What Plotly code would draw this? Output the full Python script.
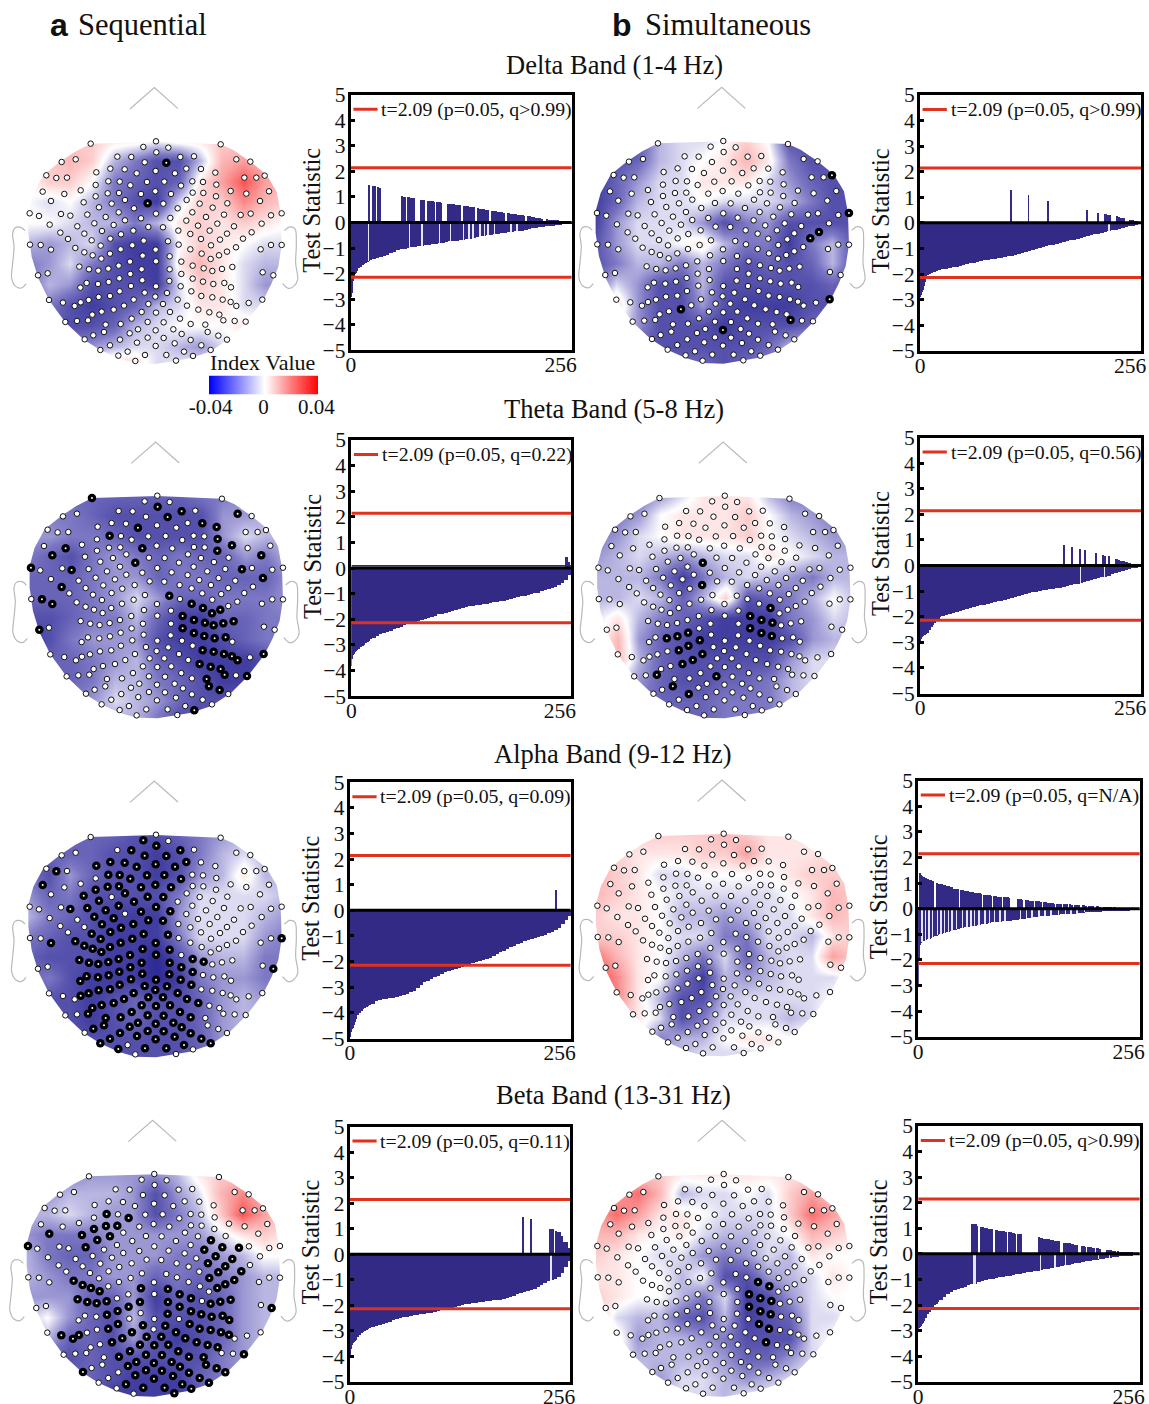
import numpy as np
import plotly.graph_objects as go

W, H = 1149, 1404
SERIF = "Liberation Serif"
BAR = "#332a85"
RED = "#e0301e"
GRAY = "#b9b9b9"

# ---------- bar data: |t| sorted, one value per rank group ----------
RANK_WIDTHS = [1]*8 + [2]*8 + [4]*58

mag_a_delta = [2.9,2.75,2.3,2.1,2.0,1.95,1.88,1.82, 1.78,1.72,1.67,1.62,1.57,1.53,1.49,1.46,
 1.43,1.39,1.35,1.3,1.26,1.2,1.14,1.08,1.04,1.02,.99,.97,.95,.92,.9,.88,.86,.84,.82,.8,.78,.75,.73,.72,.7,.68,.66,.64,.62,.6,.57,.54,.52,.49,.47,.45,.43,.41,.39,.37,.36,.34,.32,.31,.28,.25,.22,.2,.18,.16,.14,.12,.11,.09,.08,.06,.04,.02]
pos_a_delta = [(20,21),(25,27),(31,33),(58,62),(66,69),(71,73),(80,84),(89,91),(93,96),(99,104),(112,115),(117,126),(130,132),(134,137),(139,142),(147,150),(152,154),(156,158),(163,166),(167,177),(181,200),(205,212),(214,221),(226,231),(233,242),(246,252)]
gap_a_delta = [20,67,82,102,115,130,136,141,149,154,158,166,185,192]

mag_a_theta = [3.8,3.55,3.4,3.33,3.28,3.24,3.2,3.17, 3.14,3.09,3.04,2.99,2.93,2.87,2.82,2.77,
 2.72,2.64,2.58,2.52,2.47,2.43,2.38,2.35,2.29,2.23,2.17,2.12,2.08,2.05,2.02,1.99,1.95,1.9,1.85,1.8,1.77,1.74,1.7,1.66,1.62,1.58,1.55,1.52,1.49,1.46,1.44,1.42,1.4,1.38,1.36,1.33,1.31,1.29,1.26,1.23,1.2,1.16,1.13,1.1,1.07,1.05,1.02,.98,.95,.9,.86,.82,.77,.72,.66,.58,.45,.25]
pos_a_theta = [(250,254)]
gap_a_theta = []
sliver_a_theta = 0.09

mag_a_alpha = [4.95,4.75,4.65,4.6,4.5,4.35,4.25,4.18, 4.1,4.0,3.92,3.86,3.82,3.78,3.74,3.7,
 3.66,3.56,3.5,3.47,3.45,3.43,3.41,3.38,3.35,3.32,3.27,3.21,3.14,3.05,2.93,2.82,2.76,2.7,2.62,2.55,2.48,2.43,2.38,2.33,2.28,2.24,2.2,2.16,2.12,2.08,2.04,2.0,1.96,1.91,1.87,1.8,1.73,1.65,1.58,1.5,1.44,1.38,1.33,1.27,1.22,1.18,1.14,1.1,1.06,1.02,.97,.91,.85,.78,.68,.55,.4,.22]
pos_a_alpha = [(238,238)]
gap_a_alpha = []

mag_a_beta = [3.95,3.7,3.55,3.47,3.42,3.38,3.33,3.27, 3.22,3.13,3.08,3.03,2.98,2.94,2.9,2.87,
 2.84,2.79,2.75,2.7,2.66,2.62,2.57,2.53,2.5,2.46,2.43,2.4,2.38,2.36,2.34,2.32,2.3,2.29,2.26,2.22,2.18,2.14,2.11,2.07,2.04,2.01,1.98,1.95,1.92,1.9,1.88,1.86,1.84,1.82,1.81,1.79,1.78,1.76,1.72,1.68,1.64,1.6,1.56,1.52,1.48,1.44,1.4,1.35,1.28,1.2,1.12,1.05,1.0,.94,.88,.72,.5,.25]
pos_a_beta = [(200,200),(210,210),(232,235),(239,246),(248,254)]
gap_a_beta = [233]

mag_b_delta = [2.9,2.8,2.7,2.6,2.45,2.3,2.15,2.08, 2.02,1.98,1.95,1.92,1.9,1.88,1.85,1.83,
 1.81,1.78,1.76,1.73,1.71,1.68,1.65,1.62,1.58,1.55,1.52,1.49,1.46,1.43,1.41,1.39,1.37,1.35,1.32,1.3,1.27,1.24,1.21,1.18,1.15,1.11,1.06,1.02,.97,.93,.9,.87,.84,.81,.78,.75,.72,.68,.65,.61,.58,.54,.51,.47,.44,.41,.38,.35,.32,.29,.27,.24,.19,.15,.12,.1,.07,.03]
pos_b_delta = [(105,105),(125,125),(148,148),(193,193),(205,205),(214,219),(227,230),(232,236),(242,246),(248,253)]
gap_b_delta = [218]

mag_b_theta = [2.95,2.85,2.78,2.72,2.7,2.68,2.66,2.65, 2.62,2.5,2.4,2.3,2.22,2.14,2.06,2.01,
 1.96,1.9,1.87,1.83,1.8,1.76,1.72,1.68,1.64,1.6,1.57,1.54,1.51,1.48,1.45,1.42,1.38,1.35,1.31,1.28,1.24,1.2,1.17,1.13,1.1,1.07,1.03,1.0,.97,.94,.92,.9,.88,.86,.84,.81,.78,.75,.72,.69,.66,.63,.59,.55,.5,.47,.44,.41,.38,.33,.29,.25,.2,.17,.13,.09,.06,.03]
pos_b_theta = [(166,166),(175,175),(184,185),(190,190),(203,203),(211,214),(218,218),(226,230),(232,239),(241,249)]
gap_b_theta = [185,213]

mag_b_alpha = [2.95,2.0,1.4,1.33,1.29,1.26,1.24,1.22, 1.2,1.18,1.15,1.12,1.09,1.06,1.03,1.0,
 .97,.93,.89,.85,.8,.77,.74,.71,.69,.66,.64,.62,.59,.57,.55,.52,.5,.49,.47,.46,.45,.43,.41,.39,.37,.35,.33,.32,.3,.28,.26,.25,.23,.22,.21,.2,.19,.19,.18,.17,.16,.15,.13,.13,.12,.11,.1,.09,.09,.08,.07,.06,.05,.05,.04,.03,.02,.01]
pos_b_alpha = [(2,5),(6,9),(11,14),(15,17),(21,23),(24,27),(29,31),(33,36),(38,40),(42,46),(49,52),(54,57),(60,62),(63,66),(68,72),(76,78),(80,84),(87,90),(92,96),(99,102),(103,105),(115,116),(117,120),(124,127),(129,133),(136,142),(145,148),(150,157),(160,165),(168,172),(175,178),(181,186),(190,194),(197,202),(206,210),(214,222),(226,232),(236,242),(246,252)]
gap_b_alpha = [4,8,12,16,22,26,30,35,39,44,51,56,61,65,70,77,82,88,94,100,118,125,131,139,146,153,162,170,176,183,192]

mag_b_beta = [2.95,2.9,2.85,2.8,2.75,2.7,2.62,2.55, 2.5,2.36,2.25,2.15,2.06,2.0,1.94,1.87,
 1.8,1.67,1.56,1.47,1.4,1.35,1.31,1.27,1.23,1.19,1.16,1.11,1.05,1.0,.98,.96,.94,.91,.89,.87,.85,.83,.8,.77,.75,.72,.69,.67,.65,.62,.6,.57,.55,.52,.5,.47,.44,.42,.4,.37,.34,.31,.29,.27,.25,.23,.21,.19,.17,.15,.13,.11,.09,.08,.07,.05,.03,.01]
pos_b_beta = [(62,68),(72,75),(77,79),(82,85),(89,94),(96,101),(104,107),(109,112),(115,118),(139,146),(147,158),(160,162),(168,172),(174,177),(179,183),(189,192),(196,199),(201,203),(206,210),(218,227),(230,237),(240,249)]
gap_b_beta = [64,65,66,141,158,170,208,221]

THRESHOLD = 2.14
Y_TICKS = [-5,-4,-3,-2,-1,0,1,2,3,4,5]

# ---------- electrodes (common layout) ----------
ELECTRODES = [(272,171),(468,164),(662,173),(430,181),(505,183),(469,197),(352,210),(394,211),(541,211),(582,209),
(227,218),(185,226),(709,218),(751,225),(434,227),(499,228),(289,257),(331,246),(374,248),(410,260),(467,253),(525,260),(559,246),(603,247),(646,258),
(139,266),(169,274),(201,273),(733,273),(769,273),(794,267),(287,295),(325,284),(359,285),(391,296),(441,286),(493,285),(543,297),(577,284),(609,286),(649,294),
(128,315),(193,322),(242,311),(692,313),(739,321),(807,314),(287,329),(323,320),(357,319),(423,322),(466,314),(513,322),(578,318),(610,319),(648,329),
(153,343),(251,347),(335,351),(375,340),(443,350),(490,351),(560,340),(599,351),(682,350),(780,343),(297,362),(402,365),(533,365),(638,363),
(89,380),(117,388),(183,382),(211,387),(262,384),(317,391),(356,377),(468,381),(511,394),(577,377),(618,391),(672,384),(722,385),(752,381),(813,386),(845,380),
(375,401),(423,395),(559,402),(149,414),(232,419),(283,410),(341,415),(445,421),(489,422),(594,417),(652,411),(702,419),(785,411),
(306,433),(400,432),(535,432),(629,432),(755,437),(181,438),(253,441),(363,443),(571,442),(681,441),
(204,457),(275,461),(331,456),(431,462),(504,464),(603,457),(660,459),(729,456),
(90,474),(122,475),(153,489),(302,477),(397,476),(536,474),(633,476),(708,482),(782,488),(813,475),(845,475),
(226,484),(253,497),(278,506),(330,501),(362,488),(467,489),(571,488),(681,495),(304,516),(428,507),(509,509),(605,501),(657,506),
(390,525),(468,524),(544,525),(632,517),(238,540),(267,548),(295,552),(325,546),(356,537),(509,548),(578,537),(611,545),(637,553),(666,547),(697,541),
(143,560),(114,566),(391,562),(425,548),(544,562),(788,557),(820,566),
(260,589),(241,603),(294,592),(326,586),(358,575),(427,581),(508,583),(578,576),(609,585),(640,592),(673,589),(693,602),
(393,598),(468,599),(542,599),(359,614),(434,618),(501,619),(574,614),
(296,631),(330,628),(266,640),(242,647),(224,658),(189,648),(147,640),(466,630),(604,628),(637,632),(668,639),(692,646),(709,658),(746,649),(787,639),
(401,639),(533,639),(372,657),(445,652),(489,652),(561,657),(305,675),(341,669),(425,676),(468,678),(510,676),(595,669),(628,677),(658,684),
(277,684),(264,701),(231,703),(196,706),(395,696),(540,696),(670,701),(704,703),(737,705),(443,706),(491,707),(362,712),(317,714),(572,712),(616,714),
(414,728),(467,731),(520,728),(312,736),(389,740),(280,746),(545,742),(623,736),(655,747),
(360,759),(443,753),(491,754),(254,758),(572,760),(681,759),(411,768),(524,770),(330,776),(467,778),(604,776),
(301,790),(383,795),(552,795),(632,790),(355,807),(435,805),(499,805),(579,808),(406,823),(528,822)]

# white electrodes of panel a alpha (all others are significant)
white_a_alpha = [(272,171),(468,164),(662,173),(505,183),(352,210),(582,209),(227,218),(185,226),(709,218),(751,225),(603,247),(646,258),(139,266),(201,273),(733,273),(769,273),(794,267),(287,295),(577,284),(609,286),(649,294),(193,322),(242,311),(692,313),(739,321),(807,314),(578,318),(610,319),(648,329),(153,343),(335,351),(560,340),(599,351),(682,350),(780,343),(533,365),(638,363),(89,380),(117,388),(183,382),(577,377),(618,391),(672,384),(722,385),(752,381),(813,386),(845,380),(375,401),(559,402),(149,414),(232,419),(594,417),(652,411),(702,419),(785,411),(535,432),(629,432),(755,437),(181,438),(253,441),(571,442),(681,441),(204,457),(603,457),(660,459),(729,456),(90,474),(122,475),(536,474),(633,476),(708,482),(782,488),(813,475),(571,488),(681,495),(605,501),(657,506),(544,525),(632,517),(637,553),(666,547),(697,541),(143,560),(114,566),(788,557),(609,585),(640,592),(673,589),(693,602),(604,628),(637,632),(668,639),(692,646),(709,658),(746,649),(787,639),(224,658),(189,648),(147,640),(628,677),(658,684),(231,703),(196,706),(670,701),(704,703),(737,705),(616,714),(623,736),(655,747),(254,758),(681,759),(383,795),(579,808),(406,823),(528,822)]

# significant electrodes, as read in each panel's crop (px*3 vertically)
black_a_delta = [(499,487),(444,610)]
black_a_theta = [(245,204),(419,231),(483,245),(446,261),(631,252),(538,280),(575,290),(367,293),(291,317),(578,326),(378,355),(616,346),(578,362),(175,355),(139,376),(695,376),(359,399),(83,413),(191,420),(643,418),(700,444),(163,471),(450,497),(112,508),(139,521),(509,520),(540,535),(563,549),(585,539),(485,558),(516,570),(544,577),(568,585),(594,580),(621,574),(486,595),(516,609),(544,618),(570,625),(600,622),(105,599),(539,661),(568,665),(595,672),(617,680),(632,691),(701,673),(531,702),(560,710),(587,717),(597,735),(656,738),(549,747),(555,769),(584,781),(516,841)]
black_a_beta = [(282,297),(342,310),(249,342),(281,334),(311,331),(218,360),(292,364),(258,376),(131,356),(227,397),(73,393),(560,376),(542,403),(591,396),(634,398),(571,424),(616,432),(553,445),(598,455),(640,469),(579,471),(555,488),(622,495),(598,509),(577,519),(195,497),(219,512),(241,519),(264,529),(373,520),(445,521),(477,538),(507,549),(206,552),(232,561),(256,565),(283,559),(371,561),(342,574),(312,589),(283,600),(444,566),(477,575),(508,590),(536,598),(562,605),(592,601),(609,615),(586,561),(559,565),(613,554),(722,579),(445,596),(313,627),(288,641),(380,631),(350,652),(438,631),(467,652),(505,627),(532,642),(560,646),(587,652),(608,659),(162,660),(194,672),(209,660),(325,671),(297,683),(390,665),(429,665),(495,669),(522,682),(551,689),(578,697),(372,689),(409,692),(447,689),(345,709),(473,709),(388,719),(430,719),(502,725),(541,727),(316,725),(648,718),(361,742),(340,754),(408,745),(456,741),(484,754),(546,749),(575,760),(599,771),(219,771),(387,766),(431,766),(360,781),(408,791),(458,785),(502,773),(530,789),(335,808),(381,818),(437,818),(484,808),(509,821),(555,803),(462,834)]
black_b_delta = [(695,270),(741,384),(659,441),(635,459),(278,673),(688,642),(581,705),(394,735)]
black_b_theta = [(338,397),(335,464),(525,533),(469,557),(500,569),(530,577),(469,594),(501,607),(530,617),(238,624),(267,618),(297,607),(330,631),(298,646),(271,660),(338,671),(310,690),(281,701),(376,738),(211,732),(255,769),(300,791)]
black_b_alpha = []
black_b_beta = [(491,501),(522,514),(465,538),(497,549),(528,557),(466,574),(498,589),(528,598),(495,627),(521,640),(514,682)]

# ---------- topographic index values (units of 0.01) ----------
GRID_X = [80,145,210,275,340,405,470,535,600,665,730,795,860]
GRID_Y = [160,222,284,346,408,470,532,594,656,718,780,818]

z_a_delta = [[0,0,1,1,.5,.5,0,.5,.5,1,1,1,1],[1,1,1.5,1,-1,-2,-3,-3,-1,1.5,2,1.5,1],[0,1,1,0,-2,-2.5,-3,-2.5,.5,2,3.5,2,1.5],[0,-.5,0,-1,-2,-3,-3.5,-.5,1,1,2.5,1.5,1],[0,0,-.5,-1,-1,-2,-1,.5,1,.5,1,.5,0],[-1,-1.5,-1,-.5,-3,-3.5,-3.5,0,1,.5,0,-.5,-.5],[-2,-1.5,-.5,-2,-3,-3.5,-3.5,.5,1.5,.5,-.5,-1,-1],[-2.5,-1,-1.5,-3,-3,-3,-3.5,-.5,1,.5,-.5,-1.5,-1.5],[-2,-2,-3,-3.5,-3,-2.5,-1,-.5,.5,.5,-.5,-.5,-.5],[-1,-2.5,-3,-3,-2.5,-1,-.5,0,0,0,.5,0,0],[0,-1,-2,-1.5,-1,-.5,-.5,-1,-1.5,-.5,0,0,0],[0,0,0,0,.5,.5,-.5,-.5,-.5,0,0,0,0]]
z_a_theta = [[-2,-2,-2.5,-2.5,-2.5,-2.5,-2.5,-2.5,-2,-2,-1.5,-1,-1],[-2,-2,-2,-2.5,-3,-3,-3,-3,-3,-1.5,-1.5,-1,-1],[-1.5,-1.5,-2,-2,-2.5,-3,-3,-3,-3,-1.5,-.5,-1,-1],[-2,-2.5,-3,-2,-1.5,-2,-2.5,-2,-2.5,-2.5,-1.5,-2,-1],[-2.5,-2.5,-2.5,-2,-1.5,-1.5,-2.5,-2,-2,-2.5,-2.5,-2.5,-1.5],[-2.5,-2.5,-2.5,-2,-1.5,-.5,-1.5,-2.5,-2.5,-2,-2,-2,-1.5],[-3,-3,-2.5,-2,-2,-1,-2.5,-3.5,-3.5,-2.5,-2.5,-2,-2],[-3.5,-3,-2,-1.5,-1.5,-1.5,-3,-3.5,-3.5,-3,-2.5,-2,-2],[-3,-2.5,-2.5,-2,-1.5,-1,-2.5,-3,-3.5,-3.5,-3.5,-3,-2],[-2,-2.5,-2.5,-2,-1,-1,-2,-2.5,-3,-3.5,-3.5,-3,-2],[-2,-2,-2,-1.5,-.5,-1,-1.5,-2.5,-3,-3,-2.5,-2,-2],[-2,-2,-2,-1,-1,-1,-2,-3,-3,-2.5,-2,-2,-2]]
z_a_alpha = [[-2,-2,-2.5,-2.5,-2.5,-3,-3,-2.5,-2,-1.5,-1,-1,-1],[-2,-2.5,-2.5,-2.5,-3,-3,-3.5,-3,-2,-1,-.5,-1,-1],[-2,-3,-1.5,-2.5,-3,-3,-3.5,-3,-1.5,-1,.5,-1,-1],[-1.5,-2.5,-2,-3,-3,-3,-3,-2,-.5,-.5,-.5,-.5,-1],[-1,-2,-2.5,-3,-3.5,-3.5,-3.5,-1.5,-.5,-.5,-.5,-1,-1.5],[-2,-2.5,-3,-3,-3.5,-3.5,-3.5,-2,-.5,-.5,-.5,-1.5,-2],[-2.5,-3,-3,-3,-3.5,-3.5,-4,-3,-1.5,-1,-1,-2,-2],[-2.5,-2,-3,-3.5,-3.5,-3.5,-4,-3.5,-2,-1.5,-1.5,-2,-2],[-3,-3,-3,-3.5,-3,-2.5,-3,-3,-2.5,-1.5,-1,-1.5,-2],[-3,-3,-3,-3.5,-3,-2.5,-3,-3,-2.5,-1.5,-1,-1,-1],[-3,-3,-3,-3,-3,-3,-3,-3,-2.5,-1.5,-1,-1,-1],[-3,-3,-3,-3,-3,-3,-3,-3,-2.5,-2,-1,-1,-1]]
z_a_beta = [[-1.5,-1.5,-2,-1.5,-1.5,-1.5,-1.5,-1,.5,1,1,1,1],[-1,-1.5,-1,-1,-1,-1.5,-3,-1.5,-.5,1.5,2.5,1.5,1],[-1,-1,-.5,-1,-1.5,-1.5,-3,-2,-1,1,3.5,2,1],[-1.5,-2,-2,-2,-1.5,-1.5,-1.5,-1.5,-1.5,-.5,.5,1,.5],[-1,-2,-2.5,-2.5,-1.5,-1.5,-1.5,-2,-2,-1.5,-1,0,0],[-1,-1.5,-2,-2,-1.5,-1.5,-2.5,-2,-2.5,-2,-1.5,-1,-1],[-1.5,-1.5,-1.5,-2.5,-2.5,-1.5,-3.5,-2.5,-3,-2.5,-1.5,-1,-1],[-1,0,-1.5,-2.5,-3,-1,-3,-3,-3,-2.5,-1.5,-1,-1],[-2,-1,-2.5,-2.5,-3,-1.5,-3,-3.5,-3,-2.5,-1.5,-1,-1],[-2,-2.5,-3,-2.5,-3,-3,-3,-3,-3,-2,-1.5,-1,-1],[-2,-2.5,-2.5,-2.5,-3,-3.5,-3.5,-3.5,-2.5,-2,-1.5,-1,-1],[-2,-2.5,-2.5,-3,-3.5,-3.5,-3.5,-3.5,-3,-2,-1.5,-1,-1]]
z_b_delta = [[-3,-3,-3,-1,-.5,-.5,0,1,0,-3,-3,-3,-3],[-3,-3,-2.5,-1,-.5,0,.5,1.5,.5,-2,-3,-3,-3],[-3.5,-2.5,-1.5,-.5,-.5,.5,.5,.5,-.5,-1.5,-2.5,-3,-3],[-3.5,-2.5,-1,-.5,-.5,0,-.5,-.5,-.5,-1,-2,-3,-3],[-3.5,-1.5,-.5,-.5,-.5,-1.5,-3,-2,-1.5,-3,-3,-3,-3],[-3,-1.5,-.5,-.5,0,.5,-1,-2,-2,-3.5,-2,-1,-3],[-3,-2,-1,-1,-2,-1,-2,-3,-2.5,-3,-2.5,-1,-3],[-2.5,-.5,-1.5,-3,-3,-1,-3,-3,-3,-3,-3,-2.5,-3],[-1,1,-1.5,-3,-3,-1.5,-3,-3.5,-3.5,-3.5,-3,-3,-3],[-1,0,-1.5,-3,-3,-3,-3.5,-3,-3,-3,-2.5,-2,-2],[-1,-1,-2.5,-3,-3,-3,-3,-3,-2.5,-1,-.5,-1,-1],[-1,-1,-3,-3,-2.5,-2.5,-3,-2.5,-2,-1,-1,-1,-1]]
z_b_theta = [[-2,-2,-2,-1.5,-.5,.5,.5,.5,-1,-2,-2,-2,-2],[-2.5,-2,-1.5,0,.5,.5,.5,1,0,-1,-1.5,-2,-2],[-2,-1.5,-.5,0,.5,.5,.5,1,0,-.5,-1,-1.5,-1.5],[-1.5,-1,-.5,-1,-1.5,-1,-.5,-.5,.5,0,-.5,-1,-1],[-1,-1,-1,-2,-3.5,-2,-1,-.5,-1,-1.5,-2,-1,-1],[-1,-1,-.5,-1,-2.5,-1,1,-3,-2.5,-2,-1,0,-1],[-.5,.5,-1,-2,-2.5,-3,-3.5,-3.5,-3.5,-2,-1.5,-.5,-1],[-.5,1.5,-1.5,-2.5,-3,-3.5,-3.5,-3.5,-3.5,-3,-1.5,-1,-1],[-.5,1.5,-1,-2.5,-3,-3,-3,-3,-3,-1.5,-.5,-.5,-.5],[-.5,-.5,-1.5,-2.5,-3,-3,-2.5,-2.5,-2,-1,-.5,-.5,-.5],[-1,-1,-2,-2.5,-2.5,-2.5,-2,-2,-2,-1,-.5,-.5,-.5],[-1,-1,-2,-2,-2.5,-2.5,-2,-2,-2,-1,-.5,-.5,-.5]]
z_b_alpha = [[1,1,1,1,1,1,1.5,1,.5,.5,.5,1,1],[1,1,.5,.5,.5,1,1,2,.5,.5,.5,1,1],[1.5,1,.5,-.5,-.5,0,0,0,0,.5,1,1,1],[1.5,1,.5,0,-.5,-.5,-.5,-.5,-.5,0,.5,1.5,1],[1,.5,.5,0,-1,-1,-1.5,-1,-.5,-.5,.5,1.5,1],[1,1,.5,0,-.5,-.5,-2,-2,-.5,-.5,-1,.5,1],[3,1.5,.5,0,-1,-2,-.5,-2.5,-1,-.5,-.5,2,1],[4,2.5,.5,0,-2,-3.5,-1,-1.5,-1,-.5,-.5,-.5,.5],[4,2.5,.5,-1,-3,-3,-1,-.5,-.5,-.5,-.5,0,0],[1.5,1.5,.5,-.5,-3,-2,-.5,-.5,-.5,-1,-.5,.5,.5],[.5,.5,0,-2,-1,-1,0,.5,.5,0,.5,.5,.5],[.5,0,-1,-1,-1,-.5,-.5,-.5,0,.5,.5,.5,.5]]
z_b_beta = [[1,1,1,1,.5,.5,.5,.5,.5,.5,.5,.5,.5],[1,2,3,1.5,-1,-.5,-.5,0,-.5,1,2,1,1],[2,3,2,.5,.5,0,-.5,-.5,-.5,1,3,2,1],[1.5,1.5,.5,0,.5,-.5,-1,-1,-.5,0,1.5,1,.5],[1,.5,0,-.5,-.5,-1.5,-2,-1.5,-.5,-1,.5,0,0],[.5,.5,0,0,-1,0,-3,-3,-1.5,-1,-.5,.5,0],[1,.5,0,0,-1,-2,-.5,-3.5,-3,-1.5,-.5,0,0],[1.5,-.5,-1,-1,-2.5,-3,-1,-3.5,-3,-2.5,-.5,-.5,0],[1.5,.5,-1.5,-1,-1,-1.5,-2,-3,-3,-3,-.5,0,0],[0,0,-1,-1,-1,-1,-1.5,-2.5,-2.5,-1.5,-.5,0,0],[0,0,-.5,-1.5,-.5,-.5,-1,-1.5,-1,-.5,0,0,0],[0,0,-.5,-1,-.5,-.5,-1,-.5,-.5,0,0,0,0]]

MAP_SCALE = [[0,"rgb(46,42,150)"],[.125,"rgb(84,80,172)"],[.25,"rgb(125,120,196)"],[.375,"rgb(185,182,226)"],[.5,"rgb(255,255,255)"],
             [.625,"rgb(253,205,205)"],[.75,"rgb(250,160,160)"],[.875,"rgb(250,110,110)"],[1,"rgb(250,50,50)"]]

HEAD = [(468,165),(272,171),(225,195),(180,225),(130,265),(100,320),(85,375),(85,440),(95,510),(115,575),(147,640),(195,706),(250,758),(300,790),(355,815),(406,830),(468,832),
        (570,815),(630,795),(690,755),(740,705),(790,640),(815,590),(835,540),(845,475),(842,380),(830,315),(800,265),(751,225),(700,190),(662,173),(468,165)]
NOSE = [(390,67),(463,3),(534,66)]
EAR_L = [(75,432),(62,422),(45,424),(38,440),(42,480),(38,530),(35,575),(48,600),(65,604),(78,592)]
EAR_R = [(853,432),(870,421),(885,427),(889,470),(887,530),(893,580),(880,600),(865,605),(848,590)]

# grid, black list, crop origin, crop x scale, head centre px, head top px
MAPS = [
 (z_a_delta, black_a_delta, (0,0),    3.0,   156.0, 141.3),
 (z_a_theta, black_a_theta, (0,430),  2.658, 157.3, 495.7),
 (z_a_alpha, None,          (0,780),  3.0,   156.0, 834.7),
 (z_a_beta,  black_a_beta,  (0,1115), 2.658, 154.3, 1174.0),
 (z_b_delta, black_b_delta, (580,85), 2.756, 723.3, 141.0),
 (z_b_theta, black_b_theta, (580,430),2.756, 724.8, 495.7),
 (z_b_alpha, black_b_alpha, (580,775),2.756, 723.7, 833.7),
 (z_b_beta,  black_b_beta,  (580,1115),2.756,723.7, 1174.0),
]
# mags, positive ranges, gaps, thin strip above zero, left, right, top, bottom frame px, legend text
BARS = [
 (mag_a_delta,pos_a_delta,gap_a_delta,None,349.3,573.3,93.3,351.7,"t=2.09 (p=0.05, q>0.99)"),
 (mag_a_theta,pos_a_theta,gap_a_theta,sliver_a_theta,349.9,572.6,438.3,697.7,"t=2.09 (p=0.05, q=0.22)"),
 (mag_a_alpha,pos_a_alpha,gap_a_alpha,None,348.3,572.3,780.7,1040.0,"t=2.09 (p=0.05, q=0.09)"),
 (mag_a_beta, pos_a_beta, gap_a_beta, None,348.4,571.9,1125.0,1383.3,"t=2.09 (p=0.05, q=0.11)"),
 (mag_b_delta,pos_b_delta,gap_b_delta,None,918.5,1142.8,93.3,352.3,"t=2.09 (p=0.05, q>0.99)"),
 (mag_b_theta,pos_b_theta,gap_b_theta,None,918.5,1142.8,436.0,695.0,"t=2.09 (p=0.05, q=0.56)"),
 (mag_b_alpha,pos_b_alpha,gap_b_alpha,None,916.7,1141.3,779.0,1038.3,"t=2.09 (p=0.05, q=N/A)"),
 (mag_b_beta, pos_b_beta, gap_b_beta, None,916.7,1141.3,1124.3,1383.3,"t=2.09 (p=0.05, q>0.99)"),
]

HEADINGS = [("Sequential",75.5,25,30.5),("Simultaneous",642.5,25,30.5)]
BAND_TITLES = [("Delta Band (1-4 Hz)",614,65),("Theta Band (5-8 Hz)",614,409),("Alpha Band (9-12 Hz)",613,754),("Beta Band (13-31 Hz)",613,1095)]
COLORBAR_TICKS = [-0.04,0,0.04]

fig = go.Figure()
layout = {}
ann = []
def px(x): return x/W
def py(y): return 1-y/H
def note(text,x,y,size,anchor="center",angle=0,family=SERIF):
    ann.append(dict(text=text,x=x,y=y,xref="paper",yref="paper",xanchor=anchor,yanchor="middle",showarrow=False,
                    textangle=angle,font=dict(family=family,size=size,color="#111")))

ax = 0
XR, YR = (20,900), (840,0)
elec = np.array(ELECTRODES,float)
for grid, blacks, org, zs, cx, ty in MAPS:
    ax += 1
    s = 1/3
    layout[f"xaxis{ax}"] = dict(domain=[px(cx+(XR[0]-468)*s),px(cx+(XR[1]-468)*s)],range=XR,visible=False,anchor=f"y{ax}",automargin=False)
    layout[f"yaxis{ax}"] = dict(domain=[py(ty+(YR[0]-164)*s),py(ty+(YR[1]-164)*s)],range=YR,visible=False,anchor=f"x{ax}",automargin=False)
    kw = dict(xaxis=f"x{ax}",yaxis=f"y{ax}",hoverinfo="skip",showlegend=False)
    fig.add_trace(go.Heatmap(x=GRID_X,y=GRID_Y,z=grid,zmin=-4,zmax=4,zsmooth="best",colorscale=MAP_SCALE,showscale=False,**kw))
    mx = [468,910,910,10,10,468]+[p[0] for p in HEAD]+[468]
    my = [120,120,880,880,120,120]+[p[1] for p in HEAD]+[120]
    fig.add_trace(go.Scatter(x=mx,y=my,mode="lines",fill="toself",fillcolor="white",line=dict(width=0,color="white"),**kw))
    for path,shape in ((NOSE,"linear"),(EAR_L,"spline"),(EAR_R,"spline")):
        fig.add_trace(go.Scatter(x=[p[0] for p in path],y=[p[1] for p in path],mode="lines",line=dict(color=GRAY,width=1.2,shape=shape),**kw))
    # snap significant electrodes
    flags = np.zeros(len(elec),bool)
    if blacks is None:
        flags[:] = True
        for w in white_a_alpha:
            flags[np.argmin(((elec-np.array(w))**2).sum(1))] = False
    else:
        for bx,by in blacks:
            pxx = org[0]+bx/zs; pyy = org[1]+by/3
            nx = (pxx-cx)*3+468; ny = (pyy-ty)*3+164
            flags[np.argmin(((elec-np.array((nx,ny)))**2).sum(1))] = True
    fig.add_trace(go.Scatter(x=elec[~flags,0],y=elec[~flags,1],mode="markers",marker=dict(size=5.5,color="white",line=dict(color="#111",width=1)),**kw))
    if flags.any():
        fig.add_trace(go.Scatter(x=elec[flags,0],y=elec[flags,1],mode="markers",marker=dict(size=8.5,color="#000"),**kw))
        fig.add_trace(go.Scatter(x=elec[flags,0],y=elec[flags,1],mode="markers",marker=dict(size=2,color="#fff"),**kw))

ranks = np.arange(256)+0.5
for mag,pos,gap,sliver,L,R,T,B,label in BARS:
    ax += 1
    m = np.repeat(mag,RANK_WIDTHS)
    ispos = np.zeros(256,bool)
    for a,b in pos: ispos[a:b+1] = True
    axis = dict(showline=True,linecolor="#000",linewidth=3,mirror=True,showgrid=False,zeroline=False,automargin=False)
    layout[f"xaxis{ax}"] = dict(domain=[px(L+1.5),px(R-1.5)],range=[0,256],tickvals=[0,243],ticktext=["0","256"],ticks="",ticklabelstandoff=-7,
        tickfont=dict(family=SERIF,size=21.5,color="#111"),anchor=f"y{ax}",**axis)
    layout[f"yaxis{ax}"] = dict(domain=[py(B-1.5),py(T+1.5)],range=[-5,5],tickvals=Y_TICKS,ticks="inside",ticklen=4,tickwidth=3,tickcolor="#000",ticklabelstandoff=-2,
        tickfont=dict(family=SERIF,size=21.5,color="#111"),anchor=f"x{ax}",**axis)
    kw = dict(xaxis=f"x{ax}",yaxis=f"y{ax}",hoverinfo="skip",showlegend=False)
    fig.add_trace(go.Bar(x=ranks,y=-m,width=1,marker=dict(color=BAR,line=dict(width=0)),**kw))
    if gap:
        g = np.array(gap)
        fig.add_trace(go.Bar(x=ranks[g],y=-m[g],width=0.6,marker=dict(color="#e4e4f2",line=dict(width=0)),**kw))
    fig.add_trace(go.Bar(x=ranks[ispos],y=m[ispos],width=1,marker=dict(color=BAR,line=dict(width=0)),**kw))
    if sliver:
        fig.add_trace(go.Scatter(x=[0,256],y=[sliver,sliver],mode="lines",line=dict(color=BAR,width=1.5),**kw))
    for t in (THRESHOLD,-THRESHOLD):
        fig.add_trace(go.Scatter(x=[0,256],y=[t,t],mode="lines",line=dict(color=RED,width=3),**kw))
    fig.add_trace(go.Scatter(x=[0,256],y=[0,0],mode="lines",line=dict(color="#000",width=3),**kw))
    fig.add_trace(go.Scatter(x=[3,31],y=[4.43,4.43],mode="lines",line=dict(color=RED,width=3),**kw))
    ann.append(dict(text=label,x=33,y=4.43,xref=f"x{ax}",yref=f"y{ax}",xanchor="left",yanchor="middle",showarrow=False,
                    font=dict(family=SERIF,size=19.8,color="#111")))
    note("Test Statistic",px(L-38),py((T+B)/2-12),24.4,angle=-90)

# colour bar
ax += 1
layout[f"xaxis{ax}"] = dict(domain=[px(209),px(318)],range=[-0.0412,0.0412],tickvals=COLORBAR_TICKS,ticktext=["-0.04","0","0.04"],ticks="",ticklabelstandoff=-3,showgrid=False,zeroline=False,
    tickfont=dict(family=SERIF,size=21,color="#111"),anchor=f"y{ax}",automargin=False)
layout[f"yaxis{ax}"] = dict(domain=[py(394.5),py(375.5)],range=[0,1],visible=False,anchor=f"x{ax}",automargin=False)
fig.add_trace(go.Heatmap(x=[-0.0412,-0.02,0,0.0015,0.02,0.0412],y=[0,1],z=[[-0.04,-0.02,0,0,0.02,0.04]]*2,zmin=-0.04,zmax=0.04,zsmooth="best",showscale=False,
    colorscale=[[0,"#0000ff"],[.5,"#ffffff"],[1,"#ff0000"]],xaxis=f"x{ax}",yaxis=f"y{ax}",hoverinfo="skip"))
note("Index Value",px(262),py(363),22)

# headings
note("<b>a</b>",px(48),py(25),32,anchor="left",family="Liberation Sans")
note("<b>b</b>",px(610),py(25),32,anchor="left",family="Liberation Sans")
for text,x,y,size in HEADINGS:
    note(text,px(x),py(y),size,anchor="left")
for text,x,y in BAND_TITLES:
    note(text,px(x),py(y),26.5)

fig.update_layout(width=W,height=H,autosize=False,margin=dict(l=0,r=0,t=0,b=0),paper_bgcolor="white",plot_bgcolor="rgba(0,0,0,0)",
                  barmode="overlay",bargap=0,annotations=ann,**layout)
fig.write_html("out.html",config=dict(displayModeBar=False),post_script="document.body.style.margin='0';document.body.style.overflow='hidden';")
